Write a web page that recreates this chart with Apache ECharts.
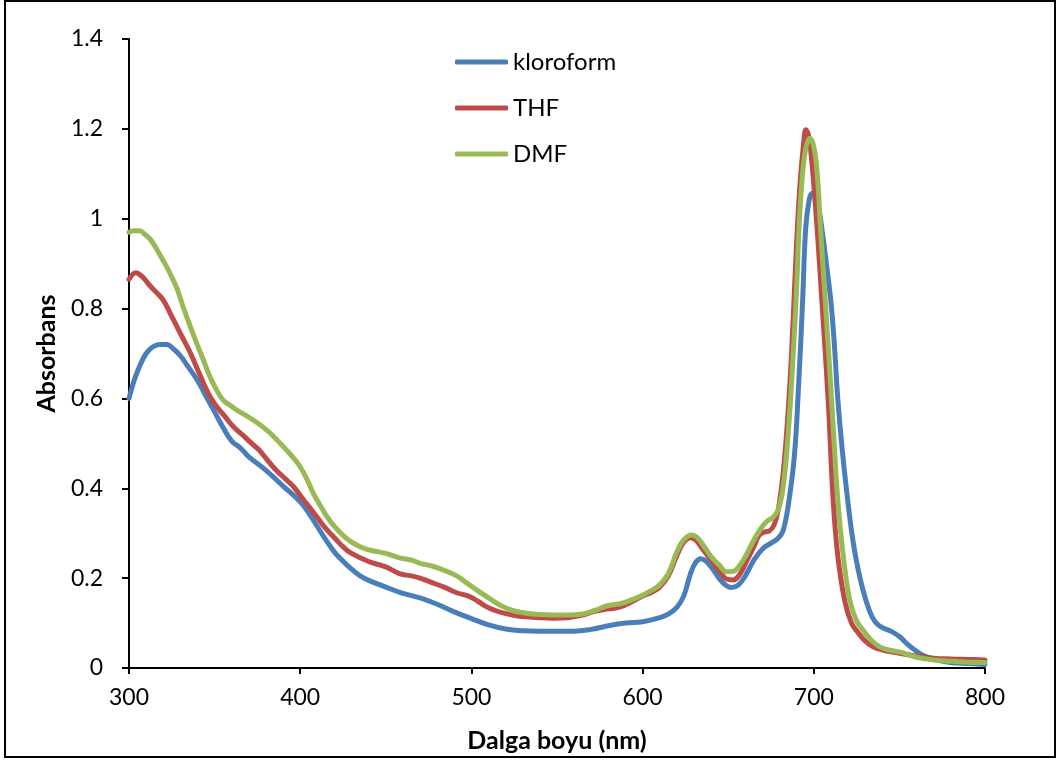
<!DOCTYPE html>
<html>
<head>
<meta charset="utf-8">
<script src="https://cdn.jsdelivr.net/npm/echarts@6/dist/echarts.min.js"></script>
<style>
  html, body { margin: 0; padding: 0; background: #fff; }
  #chart { width: 1059px; height: 760px; }
</style>
</head>
<body>
<div id="chart"></div>
<script>
// UV-Vis absorption spectra in three solvents
const seriesNames = ['kloroform', 'THF', 'DMF'];

const kloroformNm = [300,303,306,310,314,318,322,326,330,335,340,345,350,355,360,365,370,380,390,400,405,410,415,420,425,430,435,440,450,460,470,480,490,500,510,520,530,540,550,560,570,580,590,600,610,615,620,624,628,631,634,637,641,645,649,652,656,660,665,670,675,679,682,685,688.6,691,693.5,695.2,697,699,701,703,705,707.5,710,712,714,716.5,719,723,727,730.5,734,737,740.5,745,750,755,759,764,770,780,790,800];
const kloroformAbs = [0.60,0.64,0.67,0.70,0.715,0.72,0.72,0.71,0.695,0.668,0.64,0.605,0.57,0.535,0.505,0.49,0.47,0.44,0.405,0.37,0.345,0.315,0.285,0.258,0.238,0.22,0.205,0.195,0.18,0.166,0.156,0.142,0.125,0.11,0.096,0.087,0.083,0.082,0.082,0.082,0.086,0.094,0.10,0.103,0.112,0.12,0.135,0.16,0.21,0.235,0.243,0.238,0.22,0.198,0.183,0.179,0.185,0.205,0.24,0.265,0.278,0.288,0.305,0.36,0.47,0.62,0.82,0.975,1.035,1.056,1.048,1.02,0.97,0.895,0.815,0.72,0.60,0.49,0.40,0.28,0.20,0.15,0.114,0.098,0.089,0.082,0.07,0.052,0.04,0.028,0.02,0.012,0.01,0.008];

const thfNm = [300,304,308,312,316,320,324,328,332,336,340,344,348,352,356,361,366,371,376,381,386,391,396,402,406,410,415,420,425,430,440,450,458,465,470,477,484,491,499,504,509,514,519,525,532,540,548,556,565,572,579,587,594,600,605,610,615,620,624,628,631,635,640,645,649,653,657,661,665,668,671.5,674,677,680,683,686,688,690,692,694,695.4,697,699,702,705,708.4,711.3,714,718,722,726,730,734.6,740,750,760,770,780,790,800];
const thfAbs = [0.865,0.88,0.87,0.852,0.836,0.819,0.79,0.76,0.73,0.70,0.665,0.63,0.60,0.578,0.56,0.537,0.52,0.502,0.485,0.462,0.44,0.422,0.404,0.374,0.355,0.335,0.31,0.29,0.27,0.255,0.237,0.225,0.21,0.205,0.20,0.19,0.18,0.168,0.159,0.148,0.136,0.128,0.122,0.117,0.114,0.112,0.111,0.112,0.118,0.126,0.131,0.136,0.148,0.16,0.168,0.18,0.205,0.25,0.28,0.29,0.285,0.265,0.24,0.215,0.198,0.196,0.21,0.24,0.27,0.295,0.303,0.305,0.32,0.37,0.47,0.63,0.78,0.95,1.08,1.165,1.198,1.185,1.12,0.975,0.80,0.596,0.374,0.25,0.151,0.10,0.078,0.06,0.047,0.04,0.033,0.027,0.022,0.02,0.019,0.018];

const dmfNm = [300,303,306.4,309,312,315,318,321,324,328,331.6,335.5,339.5,343.5,347.3,351,355,359,363,368,372.5,377,382.4,387,392,396,400,404,407.5,412,416,420,425,430,435,440,450,458,465,470,477,483.7,491.4,497,503,510,516.7,524,532,540,548,556,565,572,579,587,594,600,605,610,615,620,624,628.7,632,636,640,645,649,653,657,661,665,669,672.5,676,679,682,685,688,690,691.3,693,695,697.7,700,702,704,707,710.4,714,717.5,721,725,730,734,738.6,744,750,760,770,780,790,800];
const dmfAbs = [0.97,0.973,0.973,0.966,0.956,0.94,0.92,0.90,0.878,0.845,0.804,0.763,0.723,0.685,0.648,0.62,0.596,0.585,0.574,0.563,0.552,0.54,0.523,0.505,0.485,0.468,0.448,0.42,0.39,0.36,0.335,0.315,0.295,0.28,0.27,0.263,0.255,0.245,0.24,0.233,0.227,0.218,0.205,0.19,0.174,0.156,0.14,0.128,0.122,0.119,0.118,0.118,0.12,0.128,0.138,0.143,0.152,0.162,0.172,0.185,0.21,0.258,0.285,0.296,0.29,0.27,0.248,0.228,0.214,0.215,0.23,0.255,0.285,0.31,0.326,0.335,0.35,0.40,0.52,0.70,0.85,0.975,1.08,1.15,1.179,1.16,1.10,0.975,0.80,0.596,0.374,0.24,0.151,0.105,0.078,0.06,0.047,0.04,0.036,0.024,0.018,0.015,0.013,0.012];

const lineColors = ['#4a7ebb', '#be4b48', '#98b954'];

const xTitle = 'Dalga boyu (nm)';
const yTitle = 'Absorbans';

const FONT = 'Lato, "Open Sans", sans-serif';

function pairs(xs, ys) {
  return xs.map((x, i) => [x, ys[i]]);
}

const seriesData = [
  pairs(kloroformNm, kloroformAbs),
  pairs(thfNm, thfAbs),
  pairs(dmfNm, dmfAbs)
];

const chart = echarts.init(document.getElementById('chart'), null, { renderer: 'canvas' });

chart.setOption({
  backgroundColor: '#ffffff',
  animation: false,
  textStyle: { fontFamily: FONT },
  grid: { left: 129, right: 74, top: 39, bottom: 92, containLabel: false },
  graphic: [{
    type: 'rect',
    shape: { x: 5, y: 1, width: 1050, height: 756 },
    style: { fill: 'none', stroke: '#000', lineWidth: 2 },
    silent: true
  }],
  legend: {
    orient: 'vertical',
    left: 455,
    top: 50,
    padding: 0,
    itemWidth: 53,
    itemHeight: 5,
    itemGap: 22,
    icon: 'roundRect',
    data: seriesNames,
    textStyle: { fontFamily: FONT, fontSize: 24, color: '#000', lineHeight: 24 }
  },
  xAxis: {
    type: 'value',
    min: 300,
    max: 800,
    interval: 100,
    name: xTitle,
    nameLocation: 'middle',
    nameGap: 60,
    nameTextStyle: { fontFamily: FONT, fontSize: 25, fontWeight: 'bold', color: '#000' },
    axisLine: { onZero: false, lineStyle: { color: '#000', width: 2 } },
    axisTick: { show: true, length: 6, inside: false, lineStyle: { color: '#000', width: 2 } },
    axisLabel: { fontFamily: FONT, fontSize: 23, color: '#000', margin: 18 },
    splitLine: { show: false }
  },
  yAxis: {
    type: 'value',
    min: 0,
    max: 1.4,
    interval: 0.2,
    name: yTitle,
    nameLocation: 'middle',
    nameGap: 70,
    nameRotate: 90,
    nameTextStyle: { fontFamily: FONT, fontSize: 25, fontWeight: 'bold', color: '#000' },
    axisLine: { show: true, lineStyle: { color: '#000', width: 2 } },
    axisTick: { show: true, length: 7, inside: false, lineStyle: { color: '#000', width: 2 } },
    axisLabel: { fontFamily: FONT, fontSize: 23, color: '#000', margin: 26 },
    splitLine: { show: false }
  },
  series: seriesNames.map((name, i) => ({
    name: name,
    type: 'line',
    data: seriesData[i],
    showSymbol: false,
    symbol: 'none',
    smooth: 0.4,
    color: lineColors[i],
    lineStyle: { width: 5, color: lineColors[i], cap: 'round', join: 'round' },
    z: 2 + i
  }))
});
</script>
</body>
</html>
